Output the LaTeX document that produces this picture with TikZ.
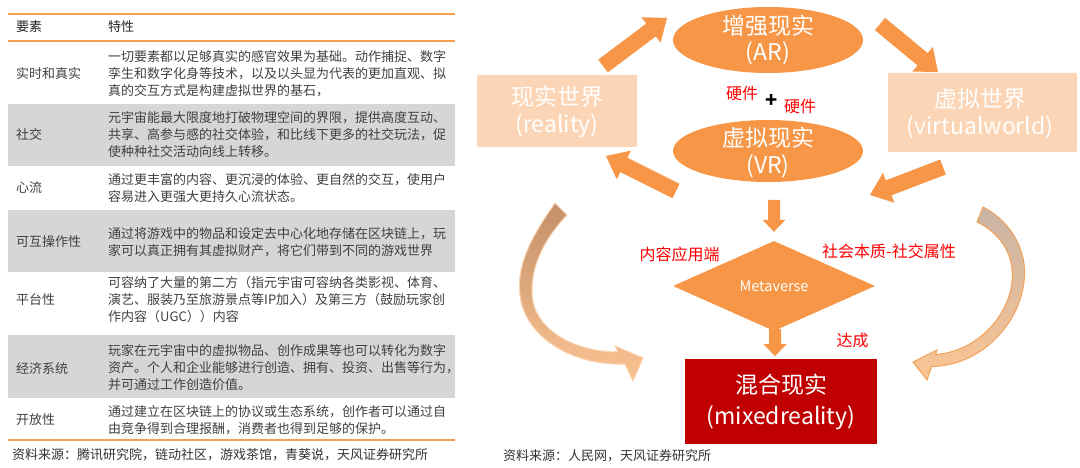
\documentclass[tikz,border=0pt]{standalone}
\usepackage{fontspec}
\setmainfont{Noto Sans CJK SC}
\usetikzlibrary{calc,shapes.geometric}
\definecolor{org}{HTML}{F79646}
\definecolor{peach}{HTML}{FBD5B5}
\definecolor{dred}{HTML}{C00000}
\definecolor{lineorg}{HTML}{F5A04E}
\definecolor{rowgray}{HTML}{D6D6D6}
\definecolor{txt}{HTML}{404040}
\definecolor{lbrownA}{HTML}{C4906A}
\definecolor{lpeachB}{HTML}{FAC391}
\definecolor{lborder}{HTML}{FAD3B0}
\definecolor{rgrayA}{HTML}{C9B4A4}
\definecolor{rpeachB}{HTML}{FBC593}
\definecolor{rborder}{HTML}{F4A15A}
\tikzset{
  lab/.style={anchor=west, inner sep=0pt, text=txt, font=\fontsize{13}{17}\selectfont},
  cell/.style={anchor=west, inner sep=0pt, align=left, text=txt, font=\fontsize{13}{17}\selectfont},
  hdr/.style={anchor=west, inner sep=0pt, text=black!85, font=\fontsize{13}{17}\selectfont},
  src/.style={anchor=west, inner sep=0pt, text=black!80, font=\fontsize{13}{17}\selectfont},
  sepline/.style={draw=lineorg, line width=2pt},
  ell/.style={ellipse, fill=org, inner sep=0pt},
  pbox/.style={rectangle, fill=peach, inner sep=0pt, rounded corners=1pt},
  bigtxt/.style={text=white, align=center, inner sep=0pt, font=\fontsize{23}{26}\selectfont},
  redtxt/.style={text=red, inner sep=0pt, font=\fontsize{16}{18}\selectfont},
  bigarrow/.style={fill=org, to path={($(\tikztostart)!8pt!90:(\tikztotarget)$) -- ($(\tikztotarget)!21.54pt!-21.80:(\tikztostart)$) -- ($(\tikztotarget)!25.61pt!-38.66:(\tikztostart)$) -- (\tikztotarget) -- ($(\tikztotarget)!25.61pt!38.66:(\tikztostart)$) -- ($(\tikztotarget)!21.54pt!21.80:(\tikztostart)$) -- ($(\tikztostart)!8pt!-90:(\tikztotarget)$) -- cycle}},
  smallarrow/.style={fill=org, to path={($(\tikztostart)!6pt!90:(\tikztotarget)$) -- ($(\tikztotarget)!13.42pt!-26.57:(\tikztostart)$) -- ($(\tikztotarget)!16.62pt!-43.78:(\tikztostart)$) -- (\tikztotarget) -- ($(\tikztotarget)!16.62pt!43.78:(\tikztostart)$) -- ($(\tikztotarget)!13.42pt!26.57:(\tikztostart)$) -- ($(\tikztostart)!6pt!-90:(\tikztotarget)$) -- cycle}},
}
\begin{document}
\begin{tikzpicture}[x=1pt,y=-1pt]
\path[use as bounding box] (0,0) rectangle (1080,468);

% ---------- table ----------
\fill[rowgray] (8,104) rectangle (455,166);
\fill[rowgray] (8,210) rectangle (455,272);
\fill[rowgray] (8,335) rectangle (455,398);
\draw[sepline] (8,14) -- (455,14);
\draw[sepline] (8,41) -- (455,41);
\draw[sepline] (8,440) -- (455,440);

\node[hdr] (h1) at (16,27) {要素};
\node[hdr] (h2) at (108,27) {特性};

\node[lab] (l1) at (16,74) {实时和真实};
\node[cell] (c1) at (108,74) {一切要素都以足够真实的感官效果为基础。动作捕捉、数字\\孪生和数字化身等技术，以及以头显为代表的更加直观、拟\\真的交互方式是构建虚拟世界的基石，};

\node[lab] (l2) at (16,135) {社交};
\node[cell] (c2) at (108,135) {元宇宙能最大限度地打破物理空间的界限，提供高度互动、\\共享、高参与感的社交体验，和比线下更多的社交玩法，促\\使种种社交活动向线上转移。};

\node[lab] (l3) at (16,188) {心流};
\node[cell] (c3) at (108,188) {通过更丰富的内容、更沉浸的体验、更自然的交互，使用户\\容易进入更强大更持久心流状态。};

\node[lab] (l4) at (16,242) {可互操作性};
\node[cell] (c4) at (108,242) {通过将游戏中的物品和设定去中心化地存储在区块链上，玩\\家可以真正拥有其虚拟财产，将它们带到不同的游戏世界};

\node[lab] (l5) at (16,300) {平台性};
\node[cell] (c5) at (108,300) {可容纳了大量的第二方（指元宇宙可容纳各类影视、体育、\\演艺、服装乃至旅游景点等IP加入）及第三方（鼓励玩家创\\作内容（UGC））内容};

\node[lab] (l6) at (16,369) {经济系统};
\node[cell] (c6) at (108,368) {玩家在元宇宙中的虚拟物品、创作成果等也可以转化为数字\\资产。个人和企业能够进行创造、拥有、投资、出售等行为，\\并可通过工作创造价值。};

\node[lab] (l7) at (16,420) {开放性};
\node[cell] (c7) at (108,420) {通过建立在区块链上的协议或生态系统，创作者可以通过自\\由竞争得到合理报酬，消费者也得到足够的保护。};

\node[src] (s1) at (12,455) {资料来源：腾讯研究院，链动社区，游戏茶馆，青葵说，天风证券研究所};

% ---------- diagram ----------
% curved arrows
\shadedraw[top color=lbrownA, bottom color=lpeachB, draw=lborder, line width=1pt]
  (555,203) .. controls (535,232) and (516,262) .. (520,295)
  .. controls (524,335) and (570,366) .. (625,364)
  -- (633,381) -- (643,358) -- (615,346) -- (618,352)
  .. controls (575,352) and (533,330) .. (532,293)
  .. controls (531,262) and (548,235) .. (567,215) -- cycle;
\shadedraw[top color=rgrayA, bottom color=rpeachB, draw=rborder, line width=1pt]
  (983,207) .. controls (1012,222) and (1028,252) .. (1024,282)
  .. controls (1019,325) and (980,366) .. (931.5,366.5)
  -- (927,380) -- (913,362) -- (937,350) -- (935.5,354.5)
  .. controls (975,352) and (1008,318) .. (1012,282)
  .. controls (1015,255) and (1000,233) .. (977,222) -- cycle;

\node[ell, minimum width=190pt, minimum height=66pt] (AR) at (768,40) {};
\node[bigtxt] (ARt) at (AR) {增强现实\\(AR)};
\node[ell, minimum width=190pt, minimum height=62pt] (VR) at (768,151) {};
\node[bigtxt, font=\fontsize{23}{27}\selectfont] (VRt) at (768,153) {虚拟现实\\(VR)};

\node[pbox, minimum width=160pt, minimum height=72pt] (real) at (557,111) {};
\node[bigtxt, font=\fontsize{23}{27}\selectfont] (realt) at (557,112) {现实世界\\(reality)};
\node[pbox, minimum width=189pt, minimum height=79pt] (virt) at (982.5,112.5) {};
\node[bigtxt, font=\fontsize{23}{27}\selectfont] (virtt) at (980,114) {虚拟世界\\(virtualworld)};

\node[diamond, fill=org, minimum width=202pt, minimum height=90pt, inner sep=0pt,
      text=white, font=\fontsize{14.5}{16}\selectfont] (meta) at (774,286) {Metaverse};

\node[rectangle, fill=dred, minimum width=192pt, minimum height=85pt, inner sep=0pt] (mix) at (781,401.5) {};
\node[bigtxt, font=\fontsize{23}{31}\selectfont] (mixt) at (781,402) {混合现实\\(mixedreality)};

\node[redtxt] (hw1) at (742,93) {硬件};
\node[inner sep=0pt, font=\fontsize{20}{22}\selectfont\bfseries] (plus) at (772,101) {+};
\node[redtxt] (hw2) at (800,106) {硬件};
\node[redtxt] (app) at (679.5,254) {内容应用端};
\node[redtxt] (soc) at (889,251) {社会本质-社交属性};
\node[redtxt] (reach) at (852.5,340) {达成};

% block arrows
\coordinate (a1s) at (603,66);  \coordinate (a1e) at (667,18);
\coordinate (a2s) at (880,24);  \coordinate (a2e) at (938,72);
\coordinate (a3s) at (943,167); \coordinate (a3e) at (870,195);
\coordinate (a4s) at (676,191); \coordinate (a4e) at (606,156);
\path[bigarrow] (a1s) to (a1e);
\path[bigarrow] (a2s) to (a2e);
\path[bigarrow] (a3s) to (a3e);
\path[bigarrow] (a4s) to (a4e);

\coordinate (d1s) at ($(meta.north)+(0,-41)$);
\coordinate (d1e) at ($(meta.north)+(0,-9)$);
\path[smallarrow] (d1s) to (d1e);
\coordinate (d2s) at ($(meta.south)+(1,-2)$);
\coordinate (d2e) at ($(meta.south)+(1,25)$);
\path[smallarrow] (d2s) to (d2e);

\node[src] (s2) at (503,456) {资料来源：人民网，天风证券研究所};
\end{tikzpicture}
\end{document}
